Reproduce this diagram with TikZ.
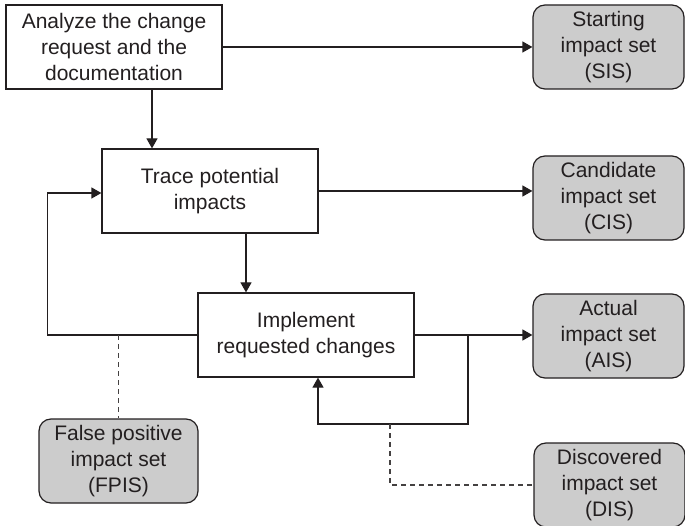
\documentclass[tikz,border=0pt]{standalone}
\usepackage{fontspec}
\setmainfont{Liberation Sans}
\usepackage{xcolor}
\usepackage{tikz}
\usetikzlibrary{arrows.meta,positioning,calc}
\definecolor{setbg}{HTML}{CCCCCC}
\definecolor{ink}{HTML}{231F20}
\tikzset{
  box/.style    = {draw=ink, fill=white, align=center, text=ink, line width=1.2pt,
                   minimum width=216pt, minimum height=84pt, inner sep=2pt,
                   font=\fontsize{21}{26}\selectfont},
  setbox/.style = {rounded corners=12pt, draw=ink, fill=setbg, align=center, text=ink,
                   line width=1.2pt, minimum width=151pt, minimum height=84pt,
                   inner sep=2pt, font=\fontsize{21}{26}\selectfont},
  ar/.style     = {-{Triangle[length=10pt,width=11pt]}, line width=1.2pt, draw=ink},
  dln/.style    = {line width=1.4pt, draw=ink!85, dash pattern=on 5pt off 4pt},
}
\begin{document}
\begin{tikzpicture}[x=1pt, y=-1pt]
  \useasboundingbox (0,0) rectangle (685,526);
  % activities
  \node[box] (analyze) at (114,47)  {Analyze the change\\request and the\\documentation};
  \node[box] (trace)   at (210,191) {Trace potential\\impacts};
  \node[box] (impl)    at (306,335) {Implement\\requested changes};
  % impact sets
  \node[setbox] (sis)  at (608.5,47)  {Starting\\impact set\\(SIS)};
  \node[setbox] (cis)  at (608.5,198) {Candidate\\impact set\\(CIS)};
  \node[setbox] (ais)  at (608.5,336) {Actual\\impact set\\(AIS)};
  \node[setbox, minimum width=159pt] (fpis) at (118.5,461) {False positive\\impact set\\(FPIS)};
  \node[setbox] (dis)  at (609.5,485) {Discovered\\impact set\\(DIS)};
  % flow
  \draw[ar] (analyze.east) -- (analyze.east -| sis.west);
  \draw[ar] ([xshift=38pt]analyze.south) -- ([xshift=38pt]analyze.south |- trace.north);
  \draw[ar] (trace.east) -- (trace.east -| cis.west);
  \draw[ar] ([xshift=36pt]trace.south) -- ([xshift=36pt]trace.south |- impl.north);
  \draw[ar] (impl.west) -- ++(-150,0) |- ([yshift=-2pt]trace.west);
  \draw[ar] (impl.east) -- (impl.east -| ais.west);
  \coordinate (split) at (468,335);
  \coordinate (back)  at (468,424);
  \draw[ar] (split) -- (back) -| ([xshift=12pt]impl.south);
  % discovered / false positive links
  \coordinate (dtap) at (390,424);
  \coordinate (ftap) at (fpis.north |- impl.west);
  \draw[dln] (dtap) |- (dis.west);
  \draw[dln] (ftap) -- (fpis.north);
\end{tikzpicture}
\end{document}
